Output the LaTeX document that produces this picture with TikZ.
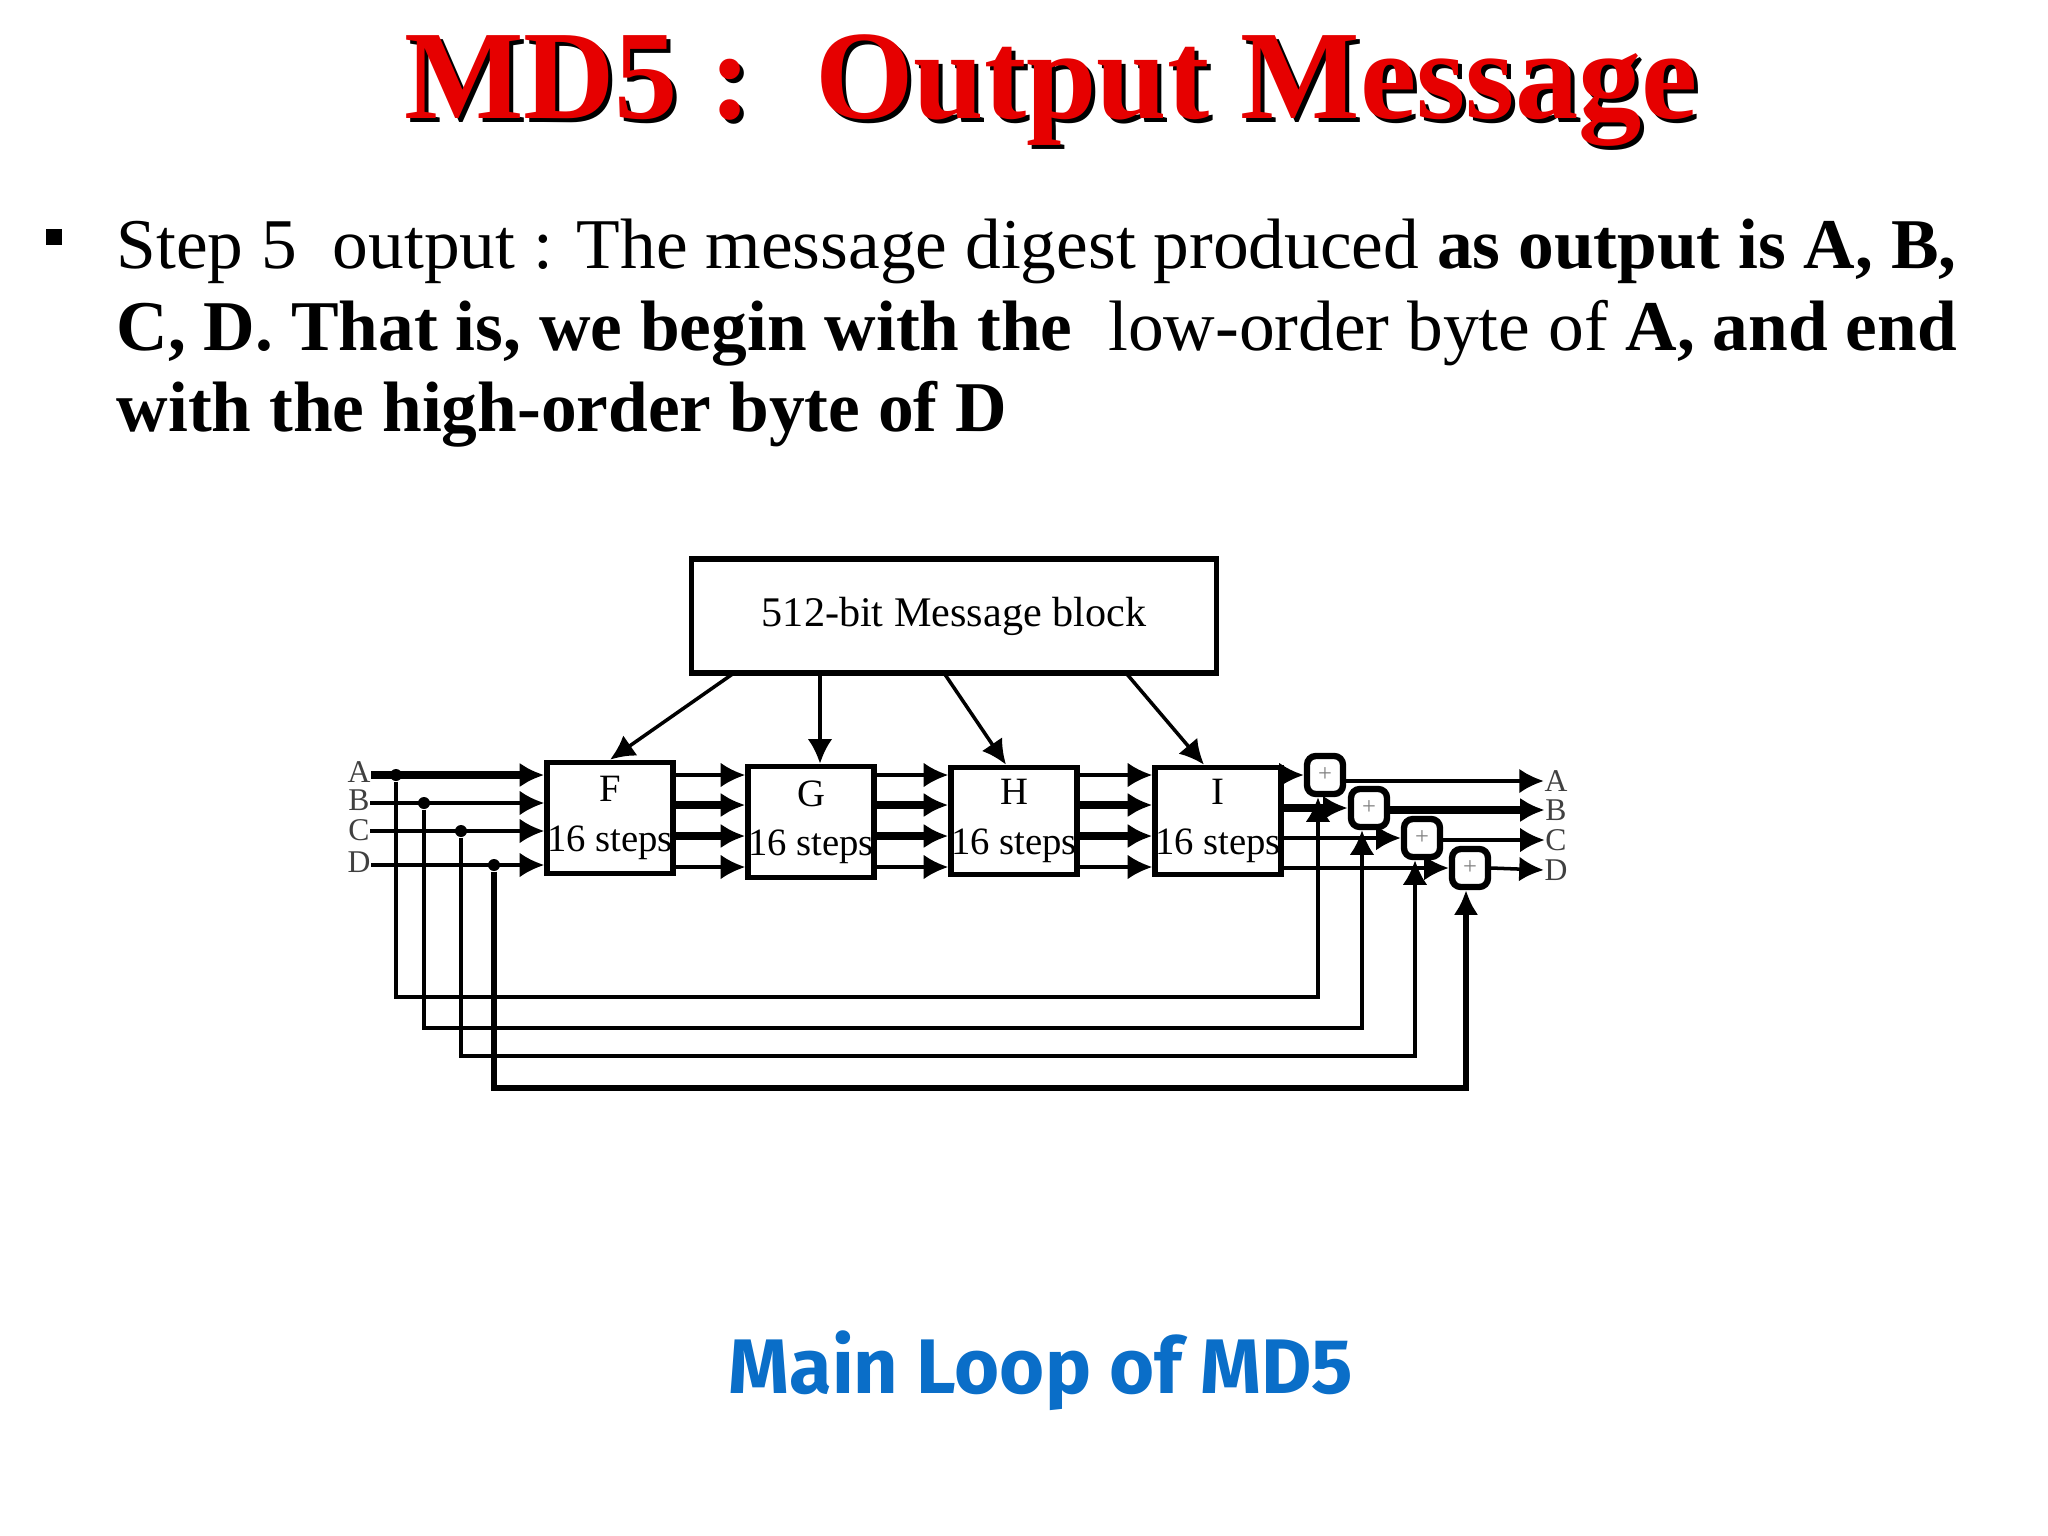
\documentclass[tikz,border=0pt]{standalone}
\usepackage{fontspec}
\setmainfont{Liberation Serif}
\newfontfamily\capfont{Fira Sans}
\usetikzlibrary{arrows.meta}
\definecolor{titlered}{RGB}{230,0,0}
\definecolor{capblue}{RGB}{10,110,200}
\newcommand{\pxu}{*0.01cm}
\tikzset{
  wire/.style={line width=1pt},
  fat/.style={line width=2.2pt},
  arr/.style={-{Latex[length=7pt,width=7pt]}},
  roundbox/.style={draw,line width=1.6pt,minimum width=122\pxu,minimum height=108\pxu,align=center,font=\fontsize{11}{13}\selectfont,inner sep=0pt},
  adder/.style={draw,line width=1.8pt,rounded corners=2.5pt,minimum width=36\pxu,minimum height=38\pxu,inner sep=0pt,font=\fontsize{7}{7}\selectfont\color{gray}},
  dot/.style={circle,fill,inner sep=0pt,minimum size=12\pxu},
  lab/.style={font=\fontsize{9}{9}\selectfont,text=black!75,inner sep=0pt},
}
\begin{document}
\begin{tikzpicture}[x=0.01cm,y=-0.01cm]
\useasboundingbox[fill=white] (0,0) rectangle (2048,1536);
% title
\node[font=\fontsize{36}{40}\bfseries\selectfont,text=black] at (1055,95) {MD5 :\ \ Output Message};
\node[font=\fontsize{36}{40}\bfseries\selectfont,text=titlered] (title) at (1051,91) {MD5 :\ \ Output Message};
% bullet text
\fill (46,229) rectangle (62,245);
\begin{scope}[every node/.style={anchor=base west,inner sep=0pt,font=\fontsize{20.3}{24}\selectfont}]
\node (l1) at (116,268) {Step 5\ \ output : The message digest produced \textbf{as output is A, B,}};
\node (l2) at (116,350) {\textbf{C, D. That is, we begin with the}\ \ low-order byte of \textbf{A, and end}};
\node (l3) at (116,431) {\textbf{with the high-order byte of D}};
\end{scope}
% message block
\node[draw,line width=1.6pt,minimum width=525\pxu,minimum height=114\pxu,font=\fontsize{12}{14}\selectfont] (M) at (954,616) {512-bit Message block};
% round boxes
\node[roundbox,minimum height=111\pxu] (F) at (610,818) {F\\[1pt]16 steps};
\node[roundbox,minimum height=111\pxu] (G) at (811,822) {G\\[1pt]16 steps};
\node[roundbox,minimum height=107\pxu] (H) at (1014,821) {H\\[1pt]16 steps};
\node[roundbox,minimum height=107\pxu] (I) at (1218,821) {I\\[1pt]16 steps};
% message arrows
\coordinate (m1) at (734,673); \coordinate (m2) at (820,673);
\coordinate (m3) at (944,673); \coordinate (m4) at (1126,673);
\draw[wire,arr] (m1) -- (F.north);
\draw[wire,arr] (m2) -- (G.north -| m2);
\draw[wire,arr] (m3) -- (H.north -| 1006,0);
\draw[wire,arr] (m4) -- (I.north -| 1204,0);
% input labels
\node[lab] (LA) at (359,772) {A};
\node[lab] (LB) at (359,800) {B};
\node[lab] (LC) at (359,830) {C};
\node[lab] (LD) at (359,862) {D};
\node[dot] (dA) at (396,775) {};
\node[dot] (dB) at (424,803) {};
\node[dot] (dC) at (461,831) {};
\node[dot] (dD) at (494,865) {};
\draw[fat,arr] (LA.east |- dA) -- (dA -| F.west);
\draw[wire,arr] (LB.east |- dB) -- (dB -| F.west);
\draw[wire,arr] (LC.east |- dC) -- (dC -| F.west);
\draw[wire,arr] (LD.east |- dD) -- (dD -| F.west);
% inter-box wires
\foreach \a/\b in {F/G,G/H,H/I}{
  \draw[wire,arr] (\a.east |- 0,775) -- (\b.west |- 0,775);
  \draw[fat,arr] (\a.east |- 0,805) -- (\b.west |- 0,805);
  \draw[fat,arr] (\a.east |- 0,836) -- (\b.west |- 0,836);
  \draw[wire,arr] (\a.east |- 0,867) -- (\b.west |- 0,867);
}
% adders
\node[adder] (s1) at (1325,775) {+};
\node[adder] (s2) at (1369,808) {+};
\node[adder] (s3) at (1422,838) {+};
\node[adder] (s4) at (1470,868) {+};
\draw[wire,arr] (I.east |- s1) -- (s1.west);
\draw[fat,arr] (I.east |- s2) -- (s2.west);
\draw[wire,arr] (I.east |- s3) -- (s3.west);
\draw[wire,arr] (I.east |- s4) -- (s4.west);
% outputs
\node[lab] (OA) at (1556,781) {A};
\node[lab] (OB) at (1556,810) {B};
\node[lab] (OC) at (1556,840) {C};
\node[lab] (OD) at (1556,870) {D};
\draw[wire,arr] (s1.east |- OA) -- (OA.west);
\draw[fat,arr] (s2.east |- OB) -- (OB.west);
\draw[wire,arr] (s3.east |- OC) -- (OC.west);
\draw[wire,arr] (s4.east) -- (OD.west);
% feedback
\draw[wire,arr] (dA) -- (396,997) -- (1318,997) -- (s1.south -| 1318,0);
\draw[wire,arr] (dB) -- (424,1028) -- (1362,1028) -- (s2.south -| 1362,0);
\draw[wire,arr] (dC) -- (461,1056) -- (1415,1056) -- (s3.south -| 1415,0);
\draw[line width=1.5pt,arr] (dD) -- (494,1088) -- (1466,1088) -- (s4.south -| 1466,0);
% caption
\node[font=\capfont\fontsize{22}{24}\bfseries\selectfont,text=capblue] (cap) at (1041,1371) {Main Loop of MD5};
\end{tikzpicture}
\end{document}
